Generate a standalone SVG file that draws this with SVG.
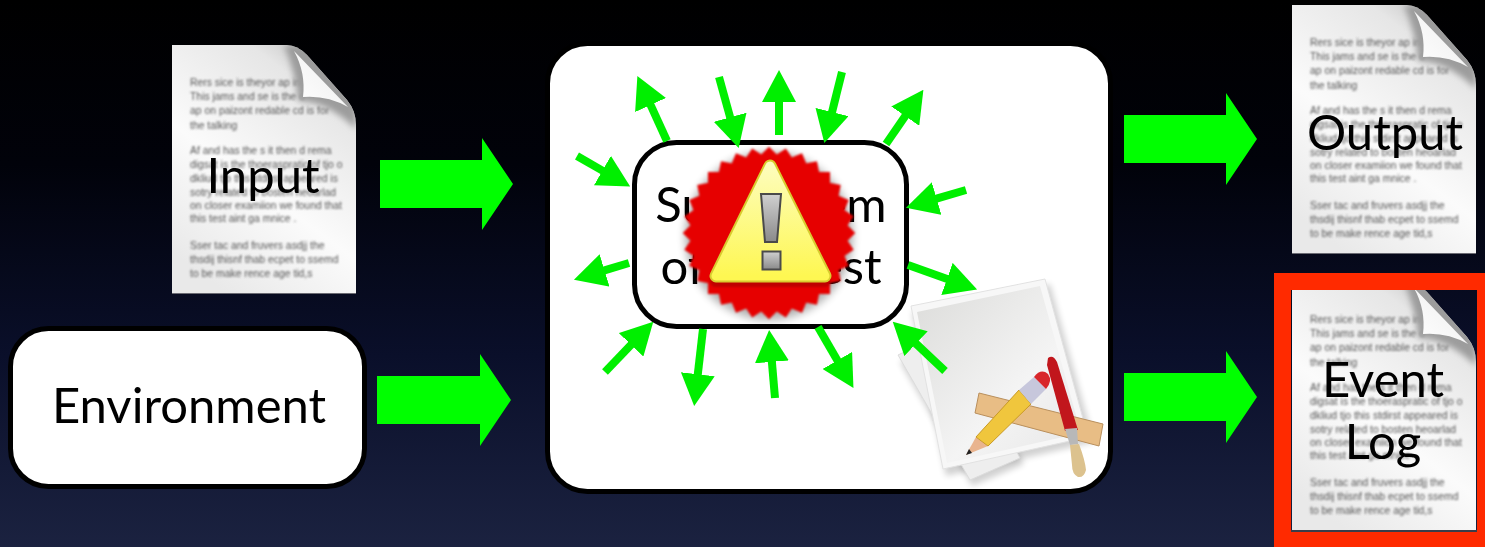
<svg xmlns="http://www.w3.org/2000/svg" width="1485" height="547" viewBox="0 0 1485 547">
<style>
.lbl{font-family:"Lato","Open Sans","Liberation Sans",sans-serif;font-size:49px;fill:#000;text-anchor:middle}
.greek{font-family:"Liberation Sans",Arial,sans-serif;font-size:10.4px;fill:#555}
.box{fill:#fff;stroke:#000}
.big{fill:#00ff00}
.small{stroke:#00ef00;stroke-width:8;fill:none;marker-end:url(#head)}
</style>
<defs>
<linearGradient id="bg" x1="0" y1="0" x2="0" y2="1">
<stop offset="0" stop-color="#000"/><stop offset=".3" stop-color="#01020a"/><stop offset=".65" stop-color="#0a0f2a"/><stop offset="1" stop-color="#1b2240"/>
</linearGradient>
<linearGradient id="page" x1=".85" y1="0" x2=".3" y2="1">
<stop offset="0" stop-color="#bcbcbc"/><stop offset=".18" stop-color="#e6e6e6"/><stop offset=".6" stop-color="#fbfbfb"/><stop offset="1" stop-color="#e9e9e9"/>
</linearGradient>
<linearGradient id="flap" x1="0" y1="1" x2="1" y2="0">
<stop offset="0" stop-color="#fff"/><stop offset=".6" stop-color="#f4f4f4"/><stop offset="1" stop-color="#cdcdcd"/>
</linearGradient>
<linearGradient id="tri" x1="0" y1="0" x2="0" y2="1">
<stop offset="0" stop-color="#fdfdbc"/><stop offset="1" stop-color="#fef752"/>
</linearGradient>
<linearGradient id="excl" x1="0" y1="0" x2="0" y2="1">
<stop offset="0" stop-color="#d0d0d0"/><stop offset="1" stop-color="#8a8a8a"/>
</linearGradient>
<linearGradient id="paper" x1="0" y1="0" x2="1" y2="1">
<stop offset="0" stop-color="#dcdcda"/><stop offset=".6" stop-color="#f4f4f4"/><stop offset="1" stop-color="#e6e6e6"/>
</linearGradient>
<filter id="b1" x="-5%" y="-5%" width="110%" height="110%"><feGaussianBlur stdDeviation="0.8"/></filter>
<filter id="b3" x="-30%" y="-30%" width="160%" height="160%"><feGaussianBlur stdDeviation="4"/></filter>
<filter id="soft" x="-10%" y="-10%" width="120%" height="120%"><feGaussianBlur stdDeviation="0.9"/></filter>
<filter id="icon" x="-10%" y="-10%" width="120%" height="120%"><feGaussianBlur stdDeviation="0.5"/></filter>
<filter id="glow" x="-15%" y="-15%" width="130%" height="130%"><feGaussianBlur stdDeviation="3"/></filter>
<clipPath id="pageclip"><path d="M0,0H115Q125,0 135,10L175,55Q184,66 184,80V249H0Z"/></clipPath>
<marker id="head" markerUnits="userSpaceOnUse" markerWidth="32" markerHeight="34" viewBox="0 0 32 34" refX="1" refY="17" orient="auto"><polygon points="0,0 32,17 0,34" fill="#00ef00"/></marker>
<symbol id="doc" overflow="visible" width="184" height="249" viewBox="0 0 184 249">
<path d="M0,0H115Q125,0 135,10L175,55Q184,66 184,80V249H0Z" fill="url(#page)"/>
<path d="M0,248H184V249H0Z" fill="#6a6a72"/>
<g class="greek" filter="url(#b1)">
<text x="18" y="41">Rers sice is theyor ap  in</text>
<text x="18" y="55">This jams and se is the o</text>
<text x="18" y="69">ap on paizont redable cd is  for</text>
<text x="18" y="83.5">the talking</text>
<text x="18" y="108.5">Af and has the s it then d rema</text>
<text x="18" y="122.5">digsat is the thoeraspratic of tjo o</text>
<text x="18" y="136.5">dkliud tjo this stdirst appeared is</text>
<text x="18" y="150.5">sotry related to  bosten heoarlad</text>
<text x="18" y="164">on closer examiion we found that</text>
<text x="18" y="176.5">this test aint ga mnice .</text>
<text x="18" y="204">Sser tac and fruvers asdjj the</text>
<text x="18" y="217.5">thsdij thisnf thab ecpet to ssemd</text>
<text x="18" y="231.5">to be make rence age tid,s</text>
</g>
<g clip-path="url(#pageclip)"><path d="M112,0Q124,28 126,56Q155,56 184,84V0Z" fill="#9c9c9c" filter="url(#glow)"/></g>
<path d="M122,6L176,62Q155,50 131,52Q134,28 122,6Z" fill="url(#flap)"/>
</symbol>
</defs>
<rect width="1485" height="547" fill="url(#bg)"/>

<g id="input">
<use href="#doc" x="172" y="45"/>
<text class="lbl" x="263" y="193">Input</text>
</g>
<g id="environment">
<rect class="box" x="10.500" y="328.500" width="354" height="158" rx="38" stroke-width="5"/>
<text class="lbl" x="189" y="423">Environment</text>
</g>
<g id="system">
<rect class="box" x="547.500" y="43.500" width="563" height="448" rx="40" stroke-width="5"/>
</g>
<g id="tools" filter="url(#icon)">
<polygon points="900,362 972,486 1024,464 950,336" fill="#000" opacity=".18" filter="url(#glow)"/>
<polygon points="912,312 1050,284 1094,442 946,476" fill="#000" opacity=".18" filter="url(#glow)"/>
<polygon points="898,355 970,480 1020,458 950,330" fill="#eeeeee" stroke="#dcdcdc"/>
<polygon points="911,306 1045,279 1088,437 943,469" fill="#f7f7f7" stroke="#e2e2e2"/>
<polygon points="917,312 1040,286 1081,433 947,463" fill="url(#paper)"/>
<polygon points="979,393 1103,424 1099,446 975,413" fill="#e8bd85" stroke="#b98f5c"/>
<polygon points="966,455 976,437 988,446" fill="#e9b48f"/>
<polygon points="966,455 969,449 972,453" fill="#222"/>
<polygon points="976,437 1019,390 1031,404 988,446" fill="#f0c63e" stroke="#c99a25"/>
<polygon points="1019,390 1034,377 1046,389 1031,404" fill="#c7c7dc"/>
<path d="M1034,377Q1041,368 1048,374Q1053,381 1046,389Z" fill="#d8262c"/>
<path d="M1048,358Q1053,354 1057,362L1078,430L1065,431L1047,365Z" fill="#c1181e"/>
<polygon points="1065,429 1077,428 1078,444 1070,445" fill="#b8b8b8"/>
<path d="M1070,445L1079,444Q1085,460 1086,470Q1084,478 1078,477Q1072,474 1072,465Z" fill="#dcc28e"/>
</g>
<g id="subsystem">
<rect class="box" x="634.500" y="142.500" width="272" height="184" rx="42" stroke-width="5"/>
<text class="lbl" x="771" y="222">Subsystem</text>
<text class="lbl" x="771" y="284">of Interest</text>
</g>
<g id="connectors">
<polygon class="big" points="380,160 482,160 482,138 513,184 482,230 482,208 380,208"/>
<polygon class="big" points="377,376 480,376 480,354 511,400 480,446 480,424 377,424"/>
<polygon class="big" points="1124,115 1226,115 1226,93 1257,139 1226,185 1226,163 1124,163"/>
<polygon class="big" points="1124,373 1226,373 1226,351 1257,397 1226,443 1226,421 1124,421"/>
<line class="small" x1="667" y1="141" x2="650.200" y2="104.100"/>
<line class="small" x1="719" y1="77" x2="730.400" y2="118.200"/>
<line class="small" x1="779" y1="135" x2="779" y2="101"/>
<line class="small" x1="842" y1="72" x2="831.800" y2="113"/>
<line class="small" x1="886" y1="144" x2="905.800" y2="115.300"/>
<line class="small" x1="966" y1="190" x2="935.700" y2="198.900"/>
<line class="small" x1="908" y1="265" x2="947.900" y2="279.200"/>
<line class="small" x1="945" y1="371" x2="915.300" y2="343"/>
<line class="small" x1="818" y1="327" x2="837.900" y2="361.300"/>
<line class="small" x1="775" y1="398" x2="771.800" y2="360.900"/>
<line class="small" x1="703" y1="329" x2="697.700" y2="375.200"/>
<line class="small" x1="605" y1="372" x2="631.800" y2="344.100"/>
<line class="small" x1="629" y1="263" x2="603.600" y2="270.700"/>
<line class="small" x1="577" y1="156" x2="603.300" y2="171.100"/>
</g>
<g id="warning">
<g fill="#000" opacity=".3" filter="url(#b3)"><circle cx="769" cy="236" r="84"/></g>
<g fill="#e60000" filter="url(#soft)" transform="translate(769 233)">
<rect x="-61" y="-61" width="122" height="122"/>
<rect x="-61" y="-61" width="122" height="122" transform="rotate(11.25)"/>
<rect x="-61" y="-61" width="122" height="122" transform="rotate(22.5)"/>
<rect x="-61" y="-61" width="122" height="122" transform="rotate(33.75)"/>
<rect x="-61" y="-61" width="122" height="122" transform="rotate(45)"/>
<rect x="-61" y="-61" width="122" height="122" transform="rotate(56.25)"/>
<rect x="-61" y="-61" width="122" height="122" transform="rotate(67.5)"/>
<rect x="-61" y="-61" width="122" height="122" transform="rotate(78.75)"/>
</g>
<polygon points="770,166 716,276 825,276" fill="#900" opacity=".5" transform="translate(0 5)" filter="url(#soft)" stroke="#900" stroke-width="12" stroke-linejoin="round"/>
<polygon points="770,166 716,276 825,276" fill="#d9cb2f" stroke="#d9cb2f" stroke-width="13" stroke-linejoin="round"/>
<polygon points="770,166 716,276 825,276" fill="url(#tri)" stroke="url(#tri)" stroke-width="9" stroke-linejoin="round"/>
<polygon points="761,194 781,194 777,242 765,242" fill="url(#excl)" stroke="#4a4a4a" stroke-width="2"/>
<rect x="762.500" y="251.500" width="18" height="18" fill="url(#excl)" stroke="#4a4a4a" stroke-width="2"/>
</g>
<g id="output">
<use href="#doc" x="1292" y="5"/>
<text class="lbl" x="1385" y="150">Output</text>
</g>
<g id="event-log">
<use href="#doc" x="1292" y="282"/>
<rect x="1291" y="530" width="186" height="2" fill="#3a3d4a"/>
<rect x="1282.500" y="281.500" width="203" height="259" fill="none" stroke="#ff2a00" stroke-width="17"/>
<text class="lbl" x="1383" y="397">Event</text>
<text class="lbl" x="1383" y="459">Log</text>
</g>
</svg>
